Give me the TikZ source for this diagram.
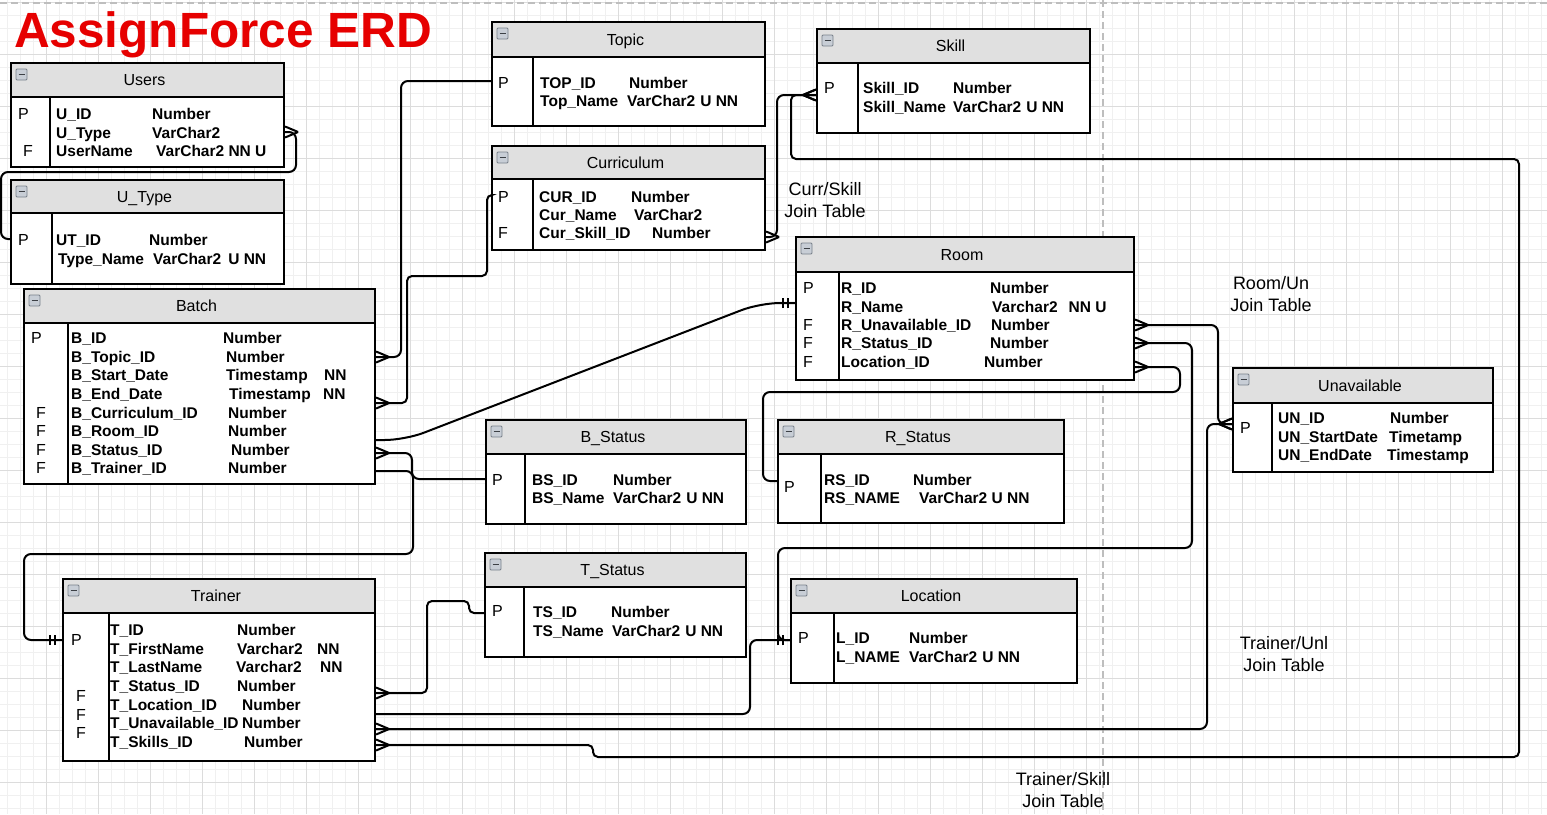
\documentclass[tikz,border=0pt]{standalone}
\usepackage{fontspec}
\setmainfont{Liberation Sans}
\usetikzlibrary{decorations.markings,fit}
\definecolor{titlered}{RGB}{230,0,0}
\definecolor{hdrgray}{RGB}{224,224,224}
\definecolor{gmin}{RGB}{240,240,240}
\definecolor{gmaj}{RGB}{220,220,220}
\definecolor{iconfill}{RGB}{200,206,214}
\definecolor{iconedge}{RGB}{120,128,138}
\definecolor{dashgray}{RGB}{190,190,190}
\newcounter{tn}
\tikzset{
  boxline/.style={line width=2.2pt, draw=black},
  ttl/.style={font=\fontsize{16}{18}\selectfont, inner sep=0pt, anchor=base},
  keyt/.style={font=\fontsize{16}{18}\selectfont, inner sep=0pt, anchor=base west},
  fldt/.style={font=\bfseries\fontsize{15.5}{18}\selectfont, inner sep=0pt, anchor=base west},
  lbl/.style={font=\fontsize{18}{22}\selectfont, inner sep=0pt, align=center},
  conn/.style={line width=2pt, rounded corners=7pt},
  crowS/.style={postaction={decorate,decoration={markings,mark=at position 0 with {\draw[line width=2pt,sharp corners] (13pt,0pt) -- (0pt,5.5pt) (13pt,0pt) -- (0pt,-5.5pt);}}}},
  crowE/.style={postaction={decorate,decoration={markings,mark=at position 1 with {\draw[line width=2pt,sharp corners] (-13pt,0pt) -- (0pt,5.5pt) (-13pt,0pt) -- (0pt,-5.5pt);}}}},
  oneE/.style={postaction={decorate,decoration={markings,mark=at position 1 with {\draw[line width=1.6pt,sharp corners] (-7pt,-5pt) -- (-7pt,5pt) (-12pt,-5pt) -- (-12pt,5pt);}}}},
}
\newcommand\fld[3]{\stepcounter{tn}\node[fldt] (f\arabic{tn}) at (#1,#2) {#3};}
\newcommand\keyl[3]{\stepcounter{tn}\node[keyt] (k\arabic{tn}) at (#1,#2) {#3};}
% #1 name, #2 x1, #3 y1, #4 x2, #5 y header bottom, #6 y2, #7 x divider, #8 title
\newcommand\tbl[8]{%
  \fill[white] (#2,#3) rectangle (#4,#6);
  \fill[hdrgray] (#2,#3) rectangle (#4,#5);
  \node[fit={(#2,#3) (#4,#6)}, inner sep=0pt, boxline] (#1) {};
  \draw[boxline] (#2,#5) -- (#4,#5) (#7,#5) -- (#7,#6);
  \node[ttl] (#1-t) at ({(#2+#4)/2-3},{(#3+#5)/2+5.8}) {#8};
  \draw[fill=iconfill, draw=iconedge, line width=0.8pt, rounded corners=1pt] (#2+5,#3+6) rectangle (#2+16,#3+17);
  \draw[line width=1.8pt, draw=iconedge!50!black] (#2+7.5,#3+11.5) -- (#2+13.5,#3+11.5);
}
\begin{document}
\begin{tikzpicture}[x=1pt,y=-1pt]
\useasboundingbox (0,0) rectangle (1547,814);
\fill[white] (0,0) rectangle (1547,814);
% grid
\foreach \i in {0,...,118} \draw[gmin, line width=1pt] ({7.7+13*\i},0) -- ({7.7+13*\i},814);
\foreach \i in {0,...,62} \draw[gmin, line width=1pt] (0,{2+13*\i}) -- (1547,{2+13*\i});
\foreach \i in {1,...,29} \draw[gmaj, line width=1pt] ({-5.3+52*\i},0) -- ({-5.3+52*\i},814);
\foreach \i in {0,...,15} \draw[gmaj, line width=1pt] (0,{2+52*\i}) -- (1547,{2+52*\i});
% page break lines
\draw[dashgray, line width=1.6pt, dash pattern=on 7pt off 4pt] (1103,0) -- (1103,814);
\draw[dashgray, line width=1.6pt, dash pattern=on 7pt off 4pt] (0,3) -- (1547,3);

% title
\node[font=\bfseries\fontsize{49.5}{55}\selectfont, text=titlered, anchor=base west, inner sep=0pt] (title) at (14,47) {AssignForce ERD};

% Users
\tbl{users}{11}{63}{284}{97}{167}{50}{Users}
\keyl{18}{119}{P} \keyl{23}{156}{F}
\fld{56}{119}{U\_ID} \fld{56}{138}{U\_Type} \fld{56}{156}{UserName}
\fld{152}{119}{Number} \fld{152}{138}{VarChar2} \fld{156}{156}{VarChar2 NN U}

% U_Type
\tbl{utype}{11}{180}{284}{213}{284}{52}{U\_Type}
\keyl{18}{245}{P}
\fld{56}{245}{UT\_ID} \fld{58}{264}{Type\_Name}
\fld{149}{245}{Number} \fld{153}{264}{VarChar2\hspace{7pt}U NN}

% Topic
\tbl{topic}{492}{22}{765}{57}{126}{533}{Topic}
\keyl{498}{88}{P}
\fld{540}{88}{TOP\_ID} \fld{540}{106}{Top\_Name}
\fld{629}{88}{Number} \fld{627}{106}{VarChar2\hspace{5pt}U NN}

% Curriculum
\tbl{curr}{492}{146}{765}{179}{250}{533}{Curriculum}
\keyl{498}{202}{P} \keyl{498}{238}{F}
\fld{539}{202}{CUR\_ID} \fld{539}{220}{Cur\_Name} \fld{539}{238}{Cur\_Skill\_ID}
\fld{631}{202}{Number} \fld{634}{220}{VarChar2} \fld{652}{238}{Number}

% Skill
\tbl{skill}{817}{29}{1090}{63}{133}{858}{Skill}
\keyl{824}{93}{P}
\fld{863}{93}{Skill\_ID} \fld{863}{112}{Skill\_Name}
\fld{953}{93}{Number} \fld{953}{112}{VarChar2\hspace{5pt}U NN}

% Room
\tbl{room}{796}{237}{1134}{272}{380}{839}{Room}
\keyl{803}{293}{P} \keyl{803}{330}{F} \keyl{803}{348}{F} \keyl{803}{367}{F}
\fld{841}{293}{R\_ID} \fld{841}{312}{R\_Name} \fld{841}{330}{R\_Unavailable\_ID} \fld{841}{348}{R\_Status\_ID} \fld{841}{367}{Location\_ID}
\fld{990}{293}{Number} \fld{992}{312}{Varchar2\hspace{11pt}NN U} \fld{991}{330}{Number} \fld{990}{348}{Number} \fld{984}{367}{Number}

% R_Status
\tbl{rstatus}{778}{420}{1064}{454}{523}{821}{R\_Status}
\keyl{784}{492}{P}
\fld{824}{485}{RS\_ID} \fld{824}{503}{RS\_NAME}
\fld{913}{485}{Number} \fld{919}{503}{VarChar2 U NN}

% B_Status
\tbl{bstatus}{486}{420}{746}{454}{524}{525}{B\_Status}
\keyl{492}{485}{P}
\fld{532}{485}{BS\_ID} \fld{532}{503}{BS\_Name}
\fld{613}{485}{Number} \fld{613}{503}{VarChar2\hspace{5pt}U NN}

% Unavailable
\tbl{unav}{1233}{368}{1493}{403}{472}{1272}{Unavailable}
\keyl{1240}{433}{P}
\fld{1278}{423}{UN\_ID} \fld{1278}{442}{UN\_StartDate} \fld{1278}{460}{UN\_EndDate}
\fld{1390}{423}{Number} \fld{1389}{442}{Timetamp} \fld{1387}{460}{Timestamp}

% Batch
\tbl{batch}{24}{289}{375}{323}{484}{68}{Batch}
\keyl{31}{343}{P} \keyl{36}{418}{F} \keyl{36}{436}{F} \keyl{36}{455}{F} \keyl{36}{473}{F}
\fld{71}{343}{B\_ID} \fld{71}{362}{B\_Topic\_ID} \fld{71}{380}{B\_Start\_Date} \fld{71}{399}{B\_End\_Date}
\fld{71}{418}{B\_Curriculum\_ID} \fld{71}{436}{B\_Room\_ID} \fld{71}{455}{B\_Status\_ID} \fld{71}{473}{B\_Trainer\_ID}
\fld{223}{343}{Number} \fld{226}{362}{Number} \fld{226}{380}{Timestamp} \fld{324}{380}{NN}
\fld{229}{399}{Timestamp} \fld{323}{399}{NN} \fld{228}{418}{Number} \fld{228}{436}{Number}
\fld{231}{455}{Number} \fld{228}{473}{Number}

% Trainer
\tbl{trainer}{63}{579}{375}{613}{761}{109}{Trainer}
\keyl{71}{645}{P} \keyl{76}{701}{F} \keyl{76}{720}{F} \keyl{76}{738}{F}
\fld{110}{635}{T\_ID} \fld{110}{654}{T\_FirstName} \fld{110}{672}{T\_LastName} \fld{110}{691}{T\_Status\_ID}
\fld{110}{710}{T\_Location\_ID} \fld{110}{728}{T\_Unavailable\_ID} \fld{110}{747}{T\_Skills\_ID}
\fld{237}{635}{Number} \fld{237}{654}{Varchar2} \fld{317}{654}{NN} \fld{236}{672}{Varchar2} \fld{320}{672}{NN}
\fld{237}{691}{Number} \fld{242}{710}{Number} \fld{242}{728}{Number} \fld{244}{747}{Number}

% T_Status
\tbl{tstatus}{485}{553}{746}{587}{657}{524}{T\_Status}
\keyl{492}{616}{P}
\fld{533}{617}{TS\_ID} \fld{533}{636}{TS\_Name}
\fld{611}{617}{Number} \fld{612}{636}{VarChar2\hspace{5pt}U NN}

% Location
\tbl{loc}{791}{579}{1077}{613}{683}{834}{Location}
\keyl{798}{643}{P}
\fld{836}{643}{L\_ID} \fld{836}{662}{L\_NAME}
\fld{909}{643}{Number} \fld{909}{662}{VarChar2\hspace{5pt}U NN}

% join table labels
\node[lbl] (lcs) at (825,200) {Curr/Skill\\Join Table};
\node[lbl] (lru) at (1271,294) {Room/Un\\Join Table};
\node[lbl] (ltu) at (1284,654) {Trainer/Unl\\Join Table};
\node[lbl] (lts) at (1063,790) {Trainer/Skill\\Join Table};

% connectors
\draw[conn, crowS] (users.east |- 0,132) -- (296,132) -- (296,172) -- (1,172) -- (1,239) -- (utype.west |- 0,239);
\draw[conn, crowE] (topic.west |- 0,81) -- (401,81) -- (401,357) -- (batch.east |- 0,357);
\draw[conn, rounded corners=5pt, crowE] (curr.west |- 0,195) -- (487,195) -- (487,276) -- (407,276) -- (407,403) -- (batch.east |- 0,403);
\draw[conn, rounded corners=20pt, oneE] (batch.east |- 0,440) -- (405,440) -- (760,303) -- (room.west |- 0,303);
\draw[conn, crowS] (batch.east |- 0,453) -- (412,453) -- (412,479) -- (bstatus.west |- 0,479);
\draw[conn, oneE] (batch.east |- 0,471) -- (413,471) -- (413,554) -- (24,554) -- (24,640) -- (trainer.west |- 0,640);
\draw[conn, crowS, crowE] (curr.east |- 0,237) -- (777,237) -- (777,95) -- (skill.west |- 0,95);
\draw[conn, rounded corners=5pt, crowS, crowE] (trainer.east |- 0,745) -- (593,745) -- (593,757) -- (1519,757) -- (1519,159) -- (791,159) -- (791,95) -- (skill.west |- 0,95);
\draw[conn, rounded corners=5pt, crowS] (trainer.east |- 0,693) -- (427,693) -- (427,601) -- (469,601) -- (469,613) -- (tstatus.west |- 0,613);
\draw[conn, oneE] (trainer.east |- 0,714) -- (750,714) -- (750,640) -- (loc.west |- 0,640);
\draw[conn, crowS, crowE] (trainer.east |- 0,729) -- (1207,729) -- (1207,424) -- (unav.west |- 0,424);
\draw[conn, crowS, crowE] (room.east |- 0,325) -- (1218,325) -- (1218,424) -- (unav.west |- 0,424);
\draw[conn, crowS, oneE] (room.east |- 0,343) -- (1192,343) -- (1192,548) -- (778,548) -- (778,640) -- (loc.west |- 0,640);
\draw[conn, crowS] (room.east |- 0,367) -- (1180,367) -- (1180,392) -- (763,392) -- (763,481) -- (rstatus.west |- 0,481);
\end{tikzpicture}
\end{document}
